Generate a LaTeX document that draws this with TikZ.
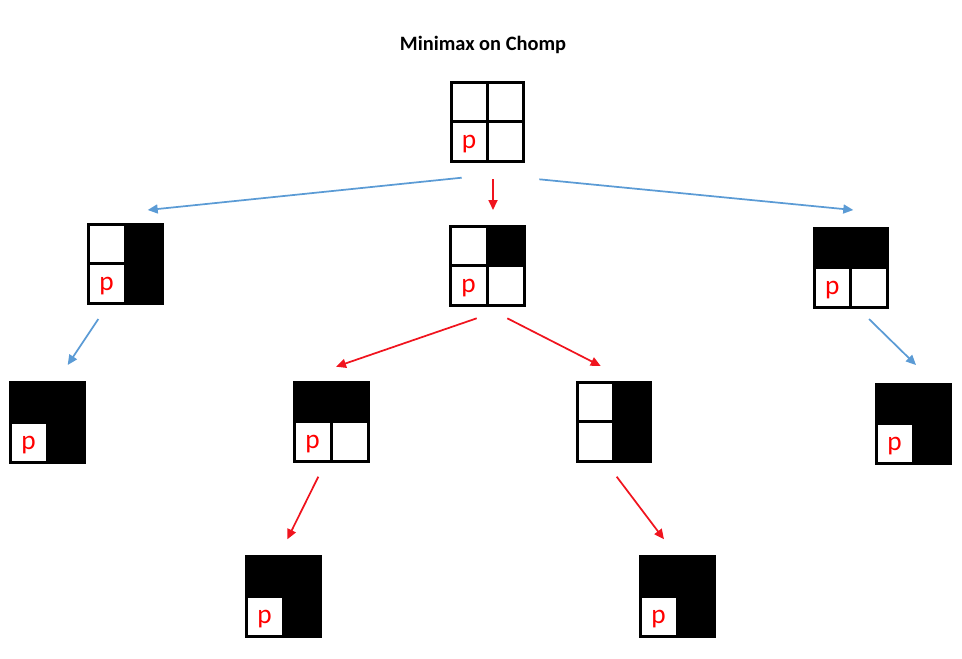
\documentclass[tikz,border=0pt]{standalone}
\usepackage{fontspec}
\newfontfamily\calib{Carlito}
\usetikzlibrary{arrows.meta,calc,fit}
\definecolor{offblue}{HTML}{5B9BD5}
\definecolor{pred}{HTML}{FF0000}
\definecolor{ared}{HTML}{F0141E}
\tikzset{
  gridline/.style={line width=2.25pt, draw=black},
  ptext/.style={text=pred, font=\calib\fontsize{20.5}{22}\selectfont, inner sep=0pt, anchor=base},
  bluearrow/.style={draw=offblue, line width=1.3pt, -{Triangle[length=7.5pt,width=6.75pt]}},
  redarrow/.style={draw=ared, line width=1.3pt, -{Triangle[length=7.5pt,width=6.75pt]}},
  titletext/.style={font=\calib\bfseries\fontsize{15.3}{18}\selectfont, inner sep=0pt, anchor=base}
}
% name, x0, y0, x1, y1, TL fill, TR fill, BR fill, text in BL
\newcommand\chompboard[9]{%
  \coordinate (#1-nw) at (#2,#3);
  \coordinate (#1-se) at (#4,#5);
  \coordinate (#1-c) at ($(#1-nw)!0.5!(#1-se)$);
  \fill[#6] (#1-nw) rectangle (#1-c);
  \fill[#7] (#1-c |- #1-nw) rectangle (#1-se |- #1-c);
  \fill[white] (#1-nw |- #1-c) rectangle (#1-c |- #1-se);
  \fill[#8] (#1-c) rectangle (#1-se);
  \draw[gridline] (#1-nw) rectangle (#1-se);
  \draw[gridline] (#1-c |- #1-nw) -- (#1-c |- #1-se);
  \draw[gridline] (#1-nw |- #1-c) -- (#1-se |- #1-c);
  \node[ptext] (#1-p) at ($($(#1-nw |- #1-c)!0.5!(#1-c |- #1-se)$)+(0,7)$) {#9};
  \node[fit=(#1-nw)(#1-se), inner sep=0pt] (#1) {};
}
\begin{document}
\begin{tikzpicture}[x=0.75pt,y=-0.75pt]
\useasboundingbox (0,0) rectangle (962,658);
\node[titletext] (title) at (483,50) {Minimax on Chomp};
\chompboard{root}{451}{82}{523}{161}{white}{white}{white}{p}
\chompboard{L1}{88}{224}{162}{303}{white}{black}{black}{p}
\chompboard{M1}{450}{226}{524}{305}{white}{black}{white}{p}
\chompboard{R1}{814}{228}{887}{307}{black}{black}{white}{p}
\chompboard{LL}{10}{382}{84}{462}{black}{black}{black}{p}
\chompboard{ML}{294}{382}{368}{461}{black}{black}{white}{p}
\chompboard{MR}{577}{382}{650}{461}{white}{black}{black}{}
\chompboard{RR}{876}{384}{950}{463}{black}{black}{black}{p}
\chompboard{MLL}{246}{556}{320}{636}{black}{black}{black}{p}
\chompboard{MRR}{640}{556}{714}{636}{black}{black}{black}{p}
% connector ends
\coordinate (rL1s) at (461.7,177.7); \coordinate (rL1e) at (147.7,210);
\coordinate (rM1s) at (493,179);     \coordinate (rM1e) at (493,210);
\coordinate (rR1s) at (539.3,179.3); \coordinate (rR1e) at (853.3,210);
\coordinate (L1LLs) at (98.3,319);   \coordinate (L1LLe) at (67.7,365);
\coordinate (R1RRs) at (869,319);    \coordinate (R1RRe) at (916,365);
\coordinate (M1MLs) at (476.7,318.3); \coordinate (M1MLe) at (336,366.7);
\coordinate (M1MRs) at (507.3,318.3); \coordinate (M1MRe) at (600.7,366);
\coordinate (MLs) at (318.3,476.7);  \coordinate (MLe) at (287.3,539.3);
\coordinate (MRs) at (616.7,476.7);  \coordinate (MRe) at (664,539.3);
\draw[bluearrow] (rL1s) -- (rL1e);
\draw[redarrow] (rM1s) -- (rM1e);
\draw[bluearrow] (rR1s) -- (rR1e);
\draw[bluearrow] (L1LLs) -- (L1LLe);
\draw[bluearrow] (R1RRs) -- (R1RRe);
\draw[redarrow] (M1MLs) -- (M1MLe);
\draw[redarrow] (M1MRs) -- (M1MRe);
\draw[redarrow] (MLs) -- (MLe);
\draw[redarrow] (MRs) -- (MRe);
\end{tikzpicture}
\end{document}
